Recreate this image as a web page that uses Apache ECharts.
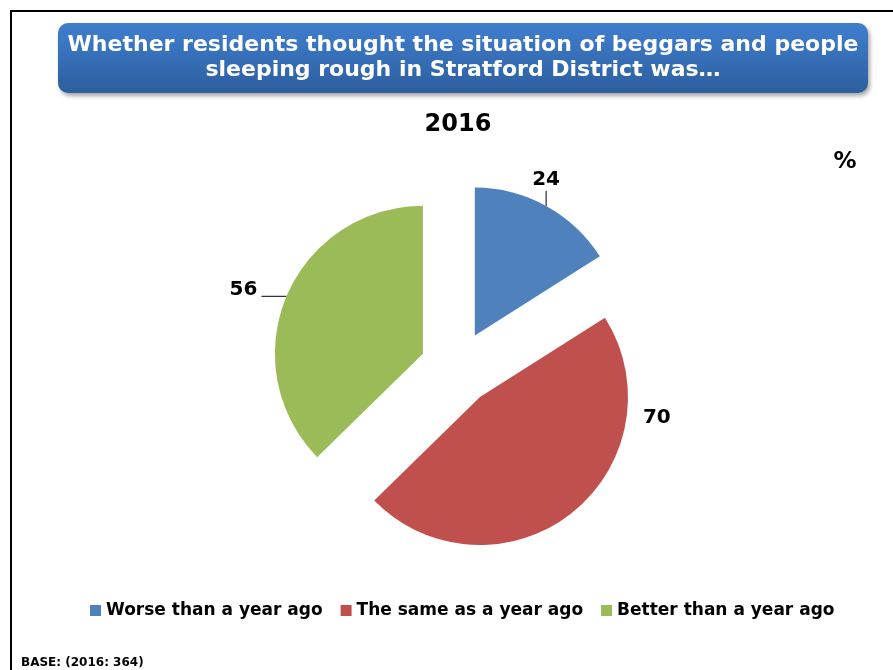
<!DOCTYPE html>
<html>
<head>
<meta charset="utf-8">
<script src="https://cdn.jsdelivr.net/npm/echarts@6/dist/echarts.min.js"></script>
<style>
  html, body { margin: 0; padding: 0; background: #ffffff; }
  #chart { width: 893px; height: 670px; }
</style>
</head>
<body>
<div id="chart"></div>
<script>
// Survey answers, 2016
const categories = ['Worse than a year ago', 'The same as a year ago', 'Better than a year ago'];
const values2016 = [24, 70, 56];
const sliceColors = ['#4f81bd', '#c0504d', '#9bbb59'];
const yearLabel = '2016';
const unitLabel = '%';
const baseNote = 'BASE: (2016: 364)';
const headlineLines = [
  'Whether residents thought the situation of beggars and people',
  'sleeping rough in Stratford District was\u2026'
];

const FONT = '"DejaVu Sans", Verdana, sans-serif';

// leader line lengths per slice: [radial, horizontal]
const leaderLengths = [[15, 0], [0, 0], [0, 25]];

const chart = echarts.init(document.getElementById('chart'), null, { renderer: 'canvas' });

const pieData = categories.map((name, i) => ({
  name: name,
  value: values2016[i],
  selected: true,
  itemStyle: { color: sliceColors[i] },
  label: { show: true },
  labelLine: {
    show: i !== 1,
    length: leaderLengths[i][0],
    length2: leaderLengths[i][1],
    lineStyle: { color: '#000000', width: 1 }
  }
}));

function boldText(text, x, y, size, color, align) {
  return {
    type: 'text', silent: true, z: 10,
    style: {
      text: text, x: x, y: y,
      textAlign: align || 'center', textVerticalAlign: 'middle',
      fill: color, font: 'bold ' + size + 'px ' + FONT
    }
  };
}

chart.setOption({
  animation: false,
  backgroundColor: '#ffffff',
  graphic: [
    {
      type: 'rect', z: -1, silent: true,
      shape: { x: 11, y: 11, width: 1000, height: 1000 },
      style: { fill: 'none', stroke: '#000000', lineWidth: 2 }
    },
    {
      type: 'rect', z: 0, silent: true,
      shape: { x: 58, y: 23, width: 810, height: 70, r: 10 },
      style: {
        fill: new echarts.graphic.LinearGradient(0, 0, 0, 1, [
          { offset: 0, color: '#3f7fcf' },
          { offset: 1, color: '#2d5e9e' }
        ]),
        shadowBlur: 4, shadowOffsetX: 2, shadowOffsetY: 3, shadowColor: 'rgba(0,0,0,0.35)'
      }
    },
    boldText(headlineLines[0], 463, 45, 22, '#ffffff'),
    boldText(headlineLines[1], 463, 70, 22, '#ffffff'),
    boldText(yearLabel, 458, 125, 24, '#000000'),
    boldText(unitLabel, 845, 162, 23, '#000000'),
    boldText(baseNote, 21, 663, 12, '#000000', 'left')
  ],
  legend: {
    data: categories,
    left: 85, top: 597,
    icon: 'rect', itemWidth: 11, itemHeight: 11, itemGap: 18,
    selectedMode: false,
    textStyle: { color: '#000000', fontFamily: FONT, fontWeight: 'bold', fontSize: 17 }
  },
  series: [{
    type: 'pie',
    center: [457, 368],
    radius: 148,
    startAngle: 90,
    clockwise: true,
    selectedMode: 'multiple',
    selectedOffset: 37,
    avoidLabelOverlap: false,
    itemStyle: { borderWidth: 0 },
    emphasis: { disabled: true },
    label: {
      position: 'outside',
      formatter: '{c}',
      color: '#000000',
      fontFamily: FONT,
      fontWeight: 'bold',
      fontSize: 20,
      distanceToLabelLine: 4
    },
    // value labels: a vertical leader above the first slice with its label
    // centred on top, the middle one nudged beside its slice, the last one
    // resting on its horizontal leader
    labelLayout: function (params) {
      const pts = params.labelLinePoints;
      const rect = params.labelRect;
      if (params.dataIndex === 0 && pts && rect) {
        const p0 = pts[0];
        const top = [p0[0], p0[1] - 15];
        return {
          labelLinePoints: [p0, top],
          dx: top[0] - (rect.x + rect.width / 2),
          dy: (top[1] - 11) - (rect.y + rect.height / 2)
        };
      }
      if (params.dataIndex === 1) {
        return { dx: 67, dy: -95 };
      }
      if (params.dataIndex === 2) {
        return { dy: -7 };
      }
      return {};
    },
    data: pieData
  }]
});
</script>
</body>
</html>
